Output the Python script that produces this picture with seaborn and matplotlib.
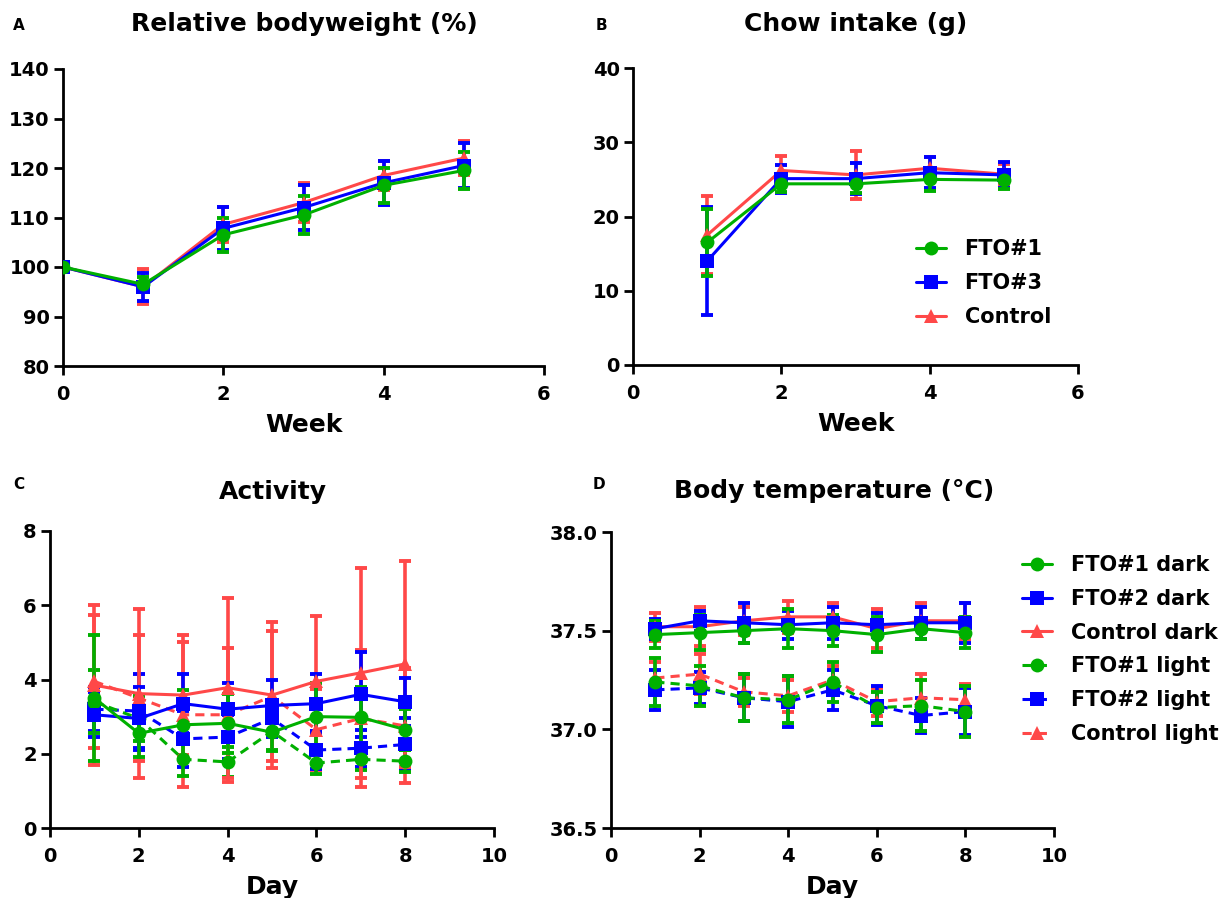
import matplotlib
matplotlib.use("Agg")
import matplotlib.pyplot as plt
import pandas as pd
import seaborn as sns

# ---- data ----
weeks = [0, 1, 2, 3, 4, 5]
bw_fto1 = [100, 96.5, 106.5, 110.5, 116.5, 119.5]
bw_fto1_sd = [0, 1.5, 3.5, 3.8, 3.5, 3.8]
bw_fto3 = [100, 96.0, 107.8, 112.0, 117.0, 120.5]
bw_fto3_sd = [0, 2.8, 4.3, 4.5, 4.5, 4.5]
bw_ctrl = [100, 96.0, 108.6, 113.0, 118.5, 122.0]
bw_ctrl_sd = [0, 3.5, 3.5, 4.0, 3.0, 3.5]

chow_weeks = [1, 2, 3, 4, 5]
chow_fto1 = [16.5, 24.4, 24.4, 25.0, 24.9]
chow_fto1_sd = [4.5, 1.1, 1.3, 1.5, 1.2]
chow_fto3 = [14.0, 25.1, 25.1, 25.9, 25.6]
chow_fto3_sd = [7.3, 1.9, 2.1, 2.1, 1.8]
chow_ctrl = [17.5, 26.2, 25.6, 26.5, 25.7]
chow_ctrl_sd = [5.2, 2.0, 3.2, 1.5, 1.4]

days = [1, 2, 3, 4, 5, 6, 7, 8]
act_fto1_dark = [3.50, 2.55, 2.78, 2.82, 2.58, 3.00, 2.98, 2.65]
act_fto1_dark_sd = [1.70, 0.65, 0.95, 0.80, 0.50, 0.90, 0.82, 0.55]
act_fto2_dark = [3.05, 2.95, 3.35, 3.20, 3.30, 3.35, 3.60, 3.40]
act_fto2_dark_sd = [0.60, 0.85, 0.80, 0.70, 0.70, 0.80, 1.15, 0.65]
act_ctrl_dark = [3.85, 3.62, 3.58, 3.78, 3.58, 3.95, 4.18, 4.42]
act_ctrl_dark_sd = [2.15, 2.28, 1.62, 2.42, 1.97, 1.75, 2.82, 2.78]
act_fto1_light = [3.40, 2.95, 1.85, 1.78, 2.60, 1.75, 1.85, 1.80]
act_fto1_light_sd = [0.85, 0.60, 0.45, 0.40, 0.50, 0.30, 0.30, 0.30]
act_fto2_light = [3.20, 3.15, 2.40, 2.45, 2.95, 2.10, 2.15, 2.25]
act_fto2_light_sd = [0.60, 1.00, 0.75, 0.60, 0.50, 0.50, 0.50, 0.70]
act_ctrl_light = [3.95, 3.50, 3.05, 3.05, 3.55, 2.65, 2.95, 2.75]
act_ctrl_light_sd = [1.80, 1.70, 1.95, 1.80, 1.75, 1.10, 1.85, 1.55]

tmp_fto1_dark = [37.48, 37.49, 37.50, 37.51, 37.50, 37.48, 37.51, 37.49]
tmp_fto1_dark_sd = [0.07, 0.09, 0.06, 0.10, 0.08, 0.09, 0.05, 0.08]
tmp_fto2_dark = [37.51, 37.55, 37.54, 37.53, 37.54, 37.53, 37.54, 37.54]
tmp_fto2_dark_sd = [0.05, 0.05, 0.10, 0.07, 0.08, 0.06, 0.08, 0.10]
tmp_ctrl_dark = [37.52, 37.52, 37.55, 37.57, 37.57, 37.51, 37.55, 37.55]
tmp_ctrl_dark_sd = [0.07, 0.10, 0.07, 0.08, 0.07, 0.10, 0.09, 0.09]
tmp_fto1_light = [37.24, 37.22, 37.16, 37.15, 37.24, 37.11, 37.12, 37.09]
tmp_fto1_light_sd = [0.12, 0.10, 0.12, 0.12, 0.10, 0.08, 0.13, 0.13]
tmp_fto2_light = [37.20, 37.21, 37.16, 37.14, 37.20, 37.12, 37.07, 37.09]
tmp_fto2_light_sd = [0.10, 0.08, 0.12, 0.13, 0.10, 0.10, 0.09, 0.12]
tmp_ctrl_light = [37.26, 37.28, 37.19, 37.17, 37.25, 37.14, 37.16, 37.15]
tmp_ctrl_light_sd = [0.08, 0.10, 0.07, 0.08, 0.07, 0.07, 0.12, 0.08]

GREEN, BLUE, RED = "#00B000", "#0000FF", "#FF4848"

sns.set_style("ticks")
plt.rcParams.update({
    "font.family": ["DejaVu Sans"],
    "font.weight": "bold",
    "text.color": "black",
    "axes.labelcolor": "black",
    "axes.linewidth": 2.0,
    "xtick.major.width": 2.0,
    "ytick.major.width": 2.0,
    "xtick.major.size": 6.5,
    "ytick.major.size": 6.5,
    "xtick.major.pad": 7.5,
    "ytick.major.pad": 3,
    "xtick.labelsize": 14,
    "ytick.labelsize": 14,
    "xtick.color": "black",
    "ytick.color": "black",
    "axes.edgecolor": "black",
})


def series(ax, x, y, sd, color, marker, dashed, label):
    df = pd.DataFrame({"x": x, "y": y})
    ls = (0, (3, 2)) if dashed else "-"
    ax.errorbar(x, y, yerr=sd, fmt="none", ecolor=color, elinewidth=2.6,
                capsize=4.5, capthick=2.8, zorder=2)
    sns.lineplot(data=df, x="x", y="y", ax=ax, color=color, marker=marker,
                 markersize=10, markeredgewidth=0, linestyle=ls, linewidth=2.2,
                 label=label, zorder=3)


def style_axis(ax, xlim, ylim, xticks, yticks, xlabel, yfmt=None):
    ax.set_xlim(*xlim)
    ax.set_ylim(*ylim)
    ax.set_xticks(xticks)
    ax.set_yticks(yticks)
    if yfmt:
        ax.set_yticklabels([yfmt.format(v) for v in yticks])
    ax.set_xlabel(xlabel, fontsize=18, fontweight="bold", labelpad=6)
    ax.set_ylabel("")
    for lab in ax.get_xticklabels() + ax.get_yticklabels():
        lab.set_fontweight("bold")
    sns.despine(ax=ax)


W, H = 1222, 898
fig = plt.figure(figsize=(W / 100, H / 100), dpi=100)


def px_axes(left, top, right, bottom):
    return fig.add_axes([left / W, 1 - bottom / H, (right - left) / W, (bottom - top) / H])


axA = px_axes(63, 69, 544, 366)
axB = px_axes(633, 68, 1078, 365)
axC = px_axes(50, 531, 494, 828)
axD = px_axes(611, 532, 1054, 828)

LEG = dict(frameon=False, prop={"size": 15, "weight": "bold"}, handlelength=1.45,
           handletextpad=0.9, labelspacing=0.66, borderpad=0, borderaxespad=0)

# A
series(axA, weeks, bw_ctrl, bw_ctrl_sd, RED, "^", False, "Control")
series(axA, weeks, bw_fto3, bw_fto3_sd, BLUE, "s", False, "FTO#3")
series(axA, weeks, bw_fto1, bw_fto1_sd, GREEN, "o", False, "FTO#1")
axA.get_legend().remove()
style_axis(axA, (0, 6), (80, 140), [0, 2, 4, 6], range(80, 141, 10), "Week")

# B
series(axB, chow_weeks, chow_ctrl, chow_ctrl_sd, RED, "^", False, "Control")
series(axB, chow_weeks, chow_fto3, chow_fto3_sd, BLUE, "s", False, "FTO#3")
series(axB, chow_weeks, chow_fto1, chow_fto1_sd, GREEN, "o", False, "FTO#1")
style_axis(axB, (0, 6), (0, 40), [0, 2, 4, 6], range(0, 41, 10), "Week")
h, l = axB.get_legend_handles_labels()
axB.legend(h[::-1], l[::-1], loc="upper left", bbox_to_anchor=(0.635, 0.423), **LEG)

# C
series(axC, days, act_ctrl_light, act_ctrl_light_sd, RED, "^", True, "Control light")
series(axC, days, act_fto2_light, act_fto2_light_sd, BLUE, "s", True, "FTO#2 light")
series(axC, days, act_fto1_light, act_fto1_light_sd, GREEN, "o", True, "FTO#1 light")
series(axC, days, act_ctrl_dark, act_ctrl_dark_sd, RED, "^", False, "Control dark")
series(axC, days, act_fto2_dark, act_fto2_dark_sd, BLUE, "s", False, "FTO#2 dark")
series(axC, days, act_fto1_dark, act_fto1_dark_sd, GREEN, "o", False, "FTO#1 dark")
axC.get_legend().remove()
style_axis(axC, (0, 10), (0, 8), range(0, 11, 2), range(0, 9, 2), "Day")

# D
series(axD, days, tmp_ctrl_light, tmp_ctrl_light_sd, RED, "^", True, "Control light")
series(axD, days, tmp_fto2_light, tmp_fto2_light_sd, BLUE, "s", True, "FTO#2 light")
series(axD, days, tmp_fto1_light, tmp_fto1_light_sd, GREEN, "o", True, "FTO#1 light")
series(axD, days, tmp_ctrl_dark, tmp_ctrl_dark_sd, RED, "^", False, "Control dark")
series(axD, days, tmp_fto2_dark, tmp_fto2_dark_sd, BLUE, "s", False, "FTO#2 dark")
series(axD, days, tmp_fto1_dark, tmp_fto1_dark_sd, GREEN, "o", False, "FTO#1 dark")
style_axis(axD, (0, 10), (36.5, 38.0), range(0, 11, 2), [36.5, 37.0, 37.5, 38.0],
           "Day", yfmt="{:.1f}")
h, l = axD.get_legend_handles_labels()
order = [5, 4, 3, 2, 1, 0]
axD.legend([h[i] for i in order], [l[i] for i in order], loc="upper left",
           bbox_to_anchor=(0.928, 0.922), **LEG)

# panel titles, centred over each axes
for text, x, y in [("Relative bodyweight (%)", 304, 24), ("Chow intake (g)", 856, 24),
                   ("Activity", 273, 492), ("Body temperature (°C)", 834, 491)]:
    fig.text(x / W, 1 - y / H, text, fontsize=18, fontweight="bold",
             ha="center", va="center")

for letter, x, y in [("A", 13, 25), ("B", 596, 25), ("C", 13, 485), ("D", 593, 485)]:
    fig.text(x / W, 1 - y / H, letter, fontsize=11, fontweight="bold",
             ha="left", va="center")

fig.savefig("out.png", dpi=100)
